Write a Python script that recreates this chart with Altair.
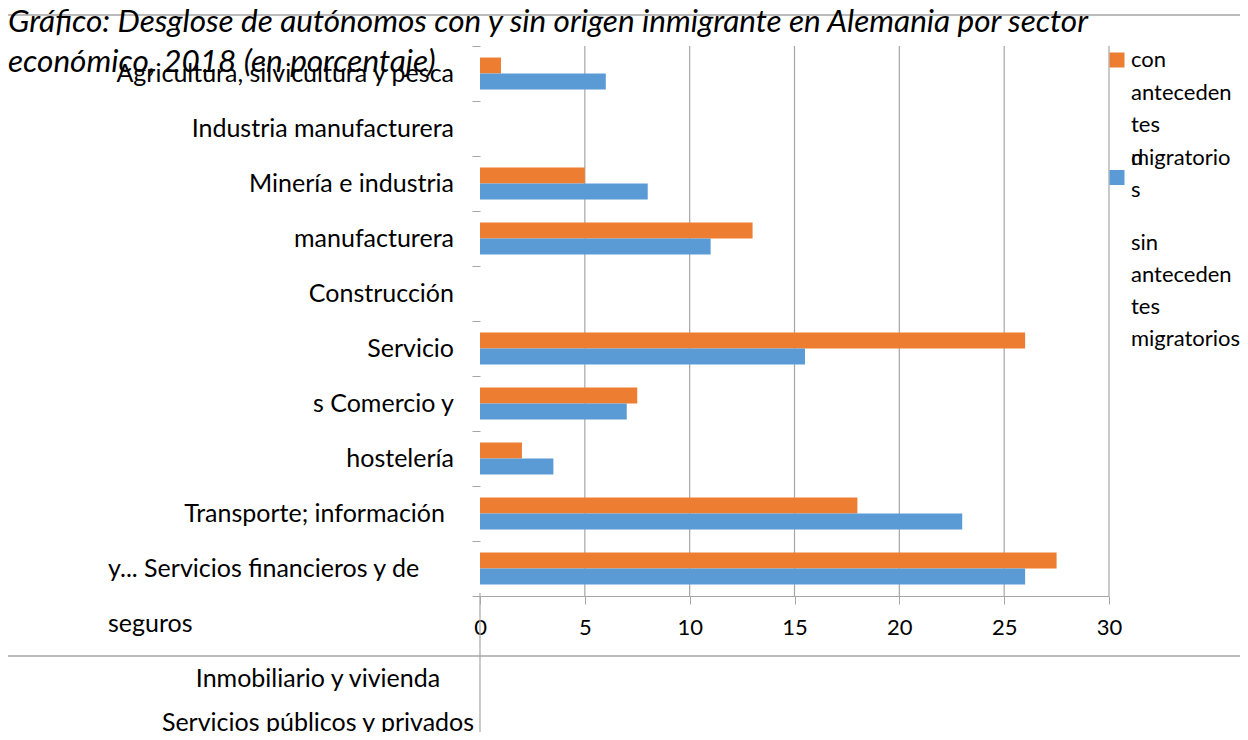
import altair as alt
import pandas as pd

# ---- data ----
slots = list(range(10))
con_values = [1, None, 5, 13, None, 26, 7.5, 2, 18, 27.5]
sin_values = [6, None, 8, 11, None, 15.5, 7, 3.5, 23, 26]
series_names = ["con antecedentes migratorios", "sin antecedentes migratorios"]
series_colors = ["#ED7D31", "#5B9BD5"]
label_lines = [
    "Agricultura, silvicultura y pesca",
    "Industria manufacturera",
    "Minería e industria",
    "manufacturera",
    "Construcción",
    "Servicio",
    "s Comercio y",
    "hostelería",
    "Transporte; información",
    "y... Servicios financieros y de",
    "seguros",
    "Inmobiliario y vivienda",
    "Servicios públicos y privados",
]
x_ticks = [0, 5, 10, 15, 20, 25, 30]
legend_con_lines = ["con", "anteceden", "tes", "migratorio", "s"]
legend_sin_lines = ["sin", "anteceden", "tes", "migratorios"]
title_lines = [
    "Gráfico: Desglose de autónomos con y sin origen inmigrante en Alemania por sector",
    "económico, 2018 (en porcentaje)",
]

rows = []
for s, c, b in zip(slots, con_values, sin_values):
    if c is not None:
        rows.append({"slot": s, "series": series_names[0], "value": c})
    if b is not None:
        rows.append({"slot": s, "series": series_names[1], "value": b})
df = pd.DataFrame(rows)
labels_df = pd.DataFrame({"line": list(range(len(label_lines))), "label": label_lines})
grid_df = pd.DataFrame({"v": [v for v in x_ticks if v > 0]})
one = pd.DataFrame({"a": [0]})

W, H = 629, 550
FONT = "Lato"
GRAY = "#a6a6a6"
FS = 25

xscale = alt.Scale(domain=[0, 30], nice=False, zero=True)

bars = alt.Chart(df).mark_bar().encode(
    x=alt.X("value:Q", scale=xscale,
            axis=alt.Axis(values=x_ticks, grid=False, title=None, domainColor=GRAY,
                          tickColor=GRAY, tickSize=8, labelFontSize=22, labelFont=FONT,
                          labelColor="black", labelPadding=13, labelFlush=False)),
    y=alt.Y("slot:O", scale=alt.Scale(domain=slots, paddingInner=0, paddingOuter=0),
            axis=alt.Axis(labels=False, domain=False, ticks=True, tickBand="extent",
                          tickSize=8, tickColor=GRAY, title=None, grid=False)),
    yOffset=alt.YOffset("series:N", sort=series_names,
                        scale=alt.Scale(domain=series_names, paddingInner=0, paddingOuter=0.72)),
    color=alt.Color("series:N", scale=alt.Scale(domain=series_names, range=series_colors),
                    legend=None),
)

grid = alt.Chart(grid_df).mark_rule(color=GRAY, strokeWidth=1.2).encode(
    x=alt.X("v:Q", scale=xscale))

yline = alt.Chart(one).mark_rule(color=GRAY, strokeWidth=1.2).encode(
    x=alt.datum(0, scale=xscale), y=alt.value(H - 3), y2=alt.value(H + 160))

frame = alt.Chart(one).mark_rect(fill=None, stroke=GRAY, strokeWidth=1.5).encode(
    x=alt.value(-473), x2=alt.value(900), y=alt.value(-31), y2=alt.value(610))

ly = alt.Y("line:Q", scale=alt.Scale(domain=[-0.5, 9.5], reverse=True, nice=False, zero=False),
           axis=None)
tstyle = dict(fontSize=FS, font=FONT, color="black", baseline="middle")

t_main = alt.Chart(labels_df).transform_filter("datum.line <= 7").mark_text(
    align="right", dx=-26, **tstyle).encode(x=alt.datum(0), y=ly, text="label:N")
t_tr = alt.Chart(labels_df).transform_filter("datum.line == 8").mark_text(
    align="right", dx=-35, **tstyle).encode(x=alt.datum(0), y=ly, text="label:N")
t_fin = alt.Chart(labels_df).transform_filter("datum.line == 9 || datum.line == 10").mark_text(
    align="left", dx=-372, **tstyle).encode(x=alt.datum(0), y=ly, text="label:N")
t_low1 = alt.Chart(labels_df).transform_filter("datum.line == 11").mark_text(
    align="center", dx=-162, **tstyle).encode(x=alt.datum(0), y=ly, text="label:N")
t_low2 = alt.Chart(labels_df).transform_filter("datum.line == 12").mark_text(
    align="center", dx=-162, dy=-11, **tstyle).encode(x=alt.datum(0), y=ly, text="label:N")

# legend (drawn manually to keep the original's odd wrapping)
lstyle = dict(tstyle, fontSize=22)
lc = pd.DataFrame({"row": list(range(len(legend_con_lines))), "t": legend_con_lines})
ls = pd.DataFrame({"row": list(range(len(legend_sin_lines))), "t": legend_sin_lines})
leg_con = alt.Chart(lc).transform_calculate(py="14 + datum.row * 32.6").mark_text(
    align="left", **lstyle).encode(x=alt.value(651), y=alt.Y("py:Q", scale=None), text="t:N")
leg_d = alt.Chart(one).mark_text(align="left", **lstyle).encode(
    x=alt.value(651), y=alt.value(112), text=alt.value("d"))
leg_sin = alt.Chart(ls).transform_calculate(py="197 + datum.row * 32").mark_text(
    align="left", **lstyle).encode(x=alt.value(651), y=alt.Y("py:Q", scale=None), text="t:N")
sq_con = alt.Chart(one).mark_square(size=225, color=series_colors[0], opacity=1).encode(
    x=alt.value(637), y=alt.value(14))
sq_sin = alt.Chart(one).mark_square(size=225, color=series_colors[1], opacity=1).encode(
    x=alt.value(637), y=alt.value(131.5))

chart = alt.layer(
    frame, grid, yline, bars, t_main, t_tr, t_fin, t_low1, t_low2,
    leg_con, leg_d, leg_sin, sq_con, sq_sin,
).resolve_scale(y="independent").properties(
    width=W, height=H,
    autosize=alt.AutoSizeParams(type="none"),
    padding={"left": 472, "top": 38, "right": 131, "bottom": 136},
    title=alt.TitleParams(text=title_lines, anchor="start", frame="group", dx=-472,
                          offset=0, dy=96, fontSize=31.5, font=FONT, fontStyle="italic",
                          fontWeight="normal", color="black", lineHeight=40,
                          baseline="bottom"),
).configure_view(stroke=None)

chart.save("out.html", embed_options={"renderer": "svg", "actions": False})
